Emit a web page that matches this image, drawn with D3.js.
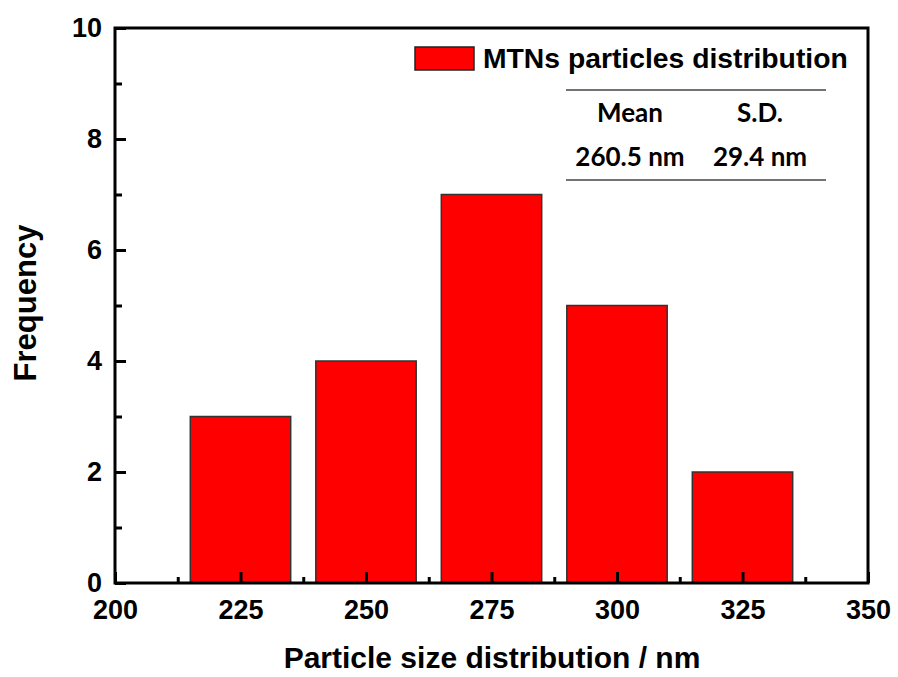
<!DOCTYPE html>
<html>
<head>
<meta charset="utf-8">
<script src="https://cdn.jsdelivr.net/npm/d3@7"></script>
<style>
  body { margin: 0; background: #fff; }
  text { font-family: "Liberation Sans", Arial, sans-serif; font-weight: bold; fill: #000; }
  .stat { font-family: Lato, "Open Sans", sans-serif; font-weight: 700; }
</style>
</head>
<body>
<svg id="chart" width="898" height="677"></svg>
<script>
// data
const binCenters = [225, 250, 275, 300, 325];
const frequency = [3, 4, 7, 5, 2];
const binWidth = 20;
const xTicks = [200, 225, 250, 275, 300, 325, 350];
const xMinor = [212.5, 237.5, 262.5, 287.5, 312.5, 337.5];
const yTicks = [0, 2, 4, 6, 8, 10];
const yMinor = [1, 3, 5, 7, 9];
const seriesName = "MTNs particles distribution";
const statHeaders = ["Mean", "S.D."];
const statValues = ["260.5 nm", "29.4 nm"];

(function (d3) {
    'use strict';

    const svg = d3.select("#chart");
    const left = 115, top = 28, right = 868, bottom = 583;

    const x = d3.scaleLinear().domain([200, 350]).range([left, right]);
    const y = d3.scaleLinear().domain([0, 10]).range([bottom, top]);

    // bars
    svg.append("g")
        .selectAll("rect")
        .data(binCenters)
        .enter()
        .append("rect")
        .attr("x", d => x(d - binWidth / 2))
        .attr("y", (d, i) => y(frequency[i]))
        .attr("width", d => x(d + binWidth / 2) - x(d - binWidth / 2))
        .attr("height", (d, i) => y(0) - y(frequency[i]))
        .style("fill", "#ff0000")
        .style("stroke", "#333")
        .style("stroke-width", 1.5);

    // minor ticks (inward)
    svg.append("g")
        .attr("transform", `translate(0,${bottom})`)
        .call(d3.axisBottom(x).tickValues(xMinor).tickSize(-6).tickFormat(""))
        .call(g => g.select(".domain").remove());
    svg.append("g")
        .attr("transform", `translate(${left},0)`)
        .call(d3.axisLeft(y).tickValues(yMinor).tickSize(-7).tickFormat(""))
        .call(g => g.select(".domain").remove());

    // major ticks + labels
    const xAxis = svg.append("g")
        .attr("transform", `translate(0,${bottom})`)
        .call(d3.axisBottom(x).tickValues(xTicks).tickSizeInner(-11).tickSizeOuter(0).tickPadding(17));
    xAxis.select(".domain").remove();
    xAxis.selectAll("text").style("font-size", "27px").style("font-family", "Liberation Sans, Arial, sans-serif");

    const yAxis = svg.append("g")
        .attr("transform", `translate(${left},0)`)
        .call(d3.axisLeft(y).tickValues(yTicks).tickSizeInner(-11).tickSizeOuter(0).tickPadding(13));
    yAxis.select(".domain").remove();
    yAxis.selectAll("text").style("font-size", "27px").style("font-family", "Liberation Sans, Arial, sans-serif");

    svg.selectAll(".tick line").style("stroke", "#000").style("stroke-width", 3);

    // frame
    svg.append("rect")
        .attr("x", left).attr("y", top)
        .attr("width", right - left).attr("height", bottom - top)
        .style("fill", "none")
        .style("stroke", "#000")
        .style("stroke-width", 3);

    // axis titles
    svg.append("text")
        .attr("x", 492).attr("y", 668)
        .attr("text-anchor", "middle")
        .style("font-size", "30px")
        .text("Particle size distribution / nm");

    svg.append("text")
        .attr("transform", "translate(36,303) rotate(-90)")
        .attr("text-anchor", "middle")
        .style("font-size", "31px")
        .text("Frequency");

    // legend
    svg.append("rect")
        .attr("x", 415).attr("y", 47)
        .attr("width", 59).attr("height", 23)
        .style("fill", "#ff0000")
        .style("stroke", "#222")
        .style("stroke-width", 1.5);
    svg.append("text")
        .attr("x", 483).attr("y", 68)
        .style("font-size", "28.3px")
        .text(seriesName);

    // stats table
    const cols = [630, 760];
    svg.append("line").attr("x1", 566).attr("x2", 826).attr("y1", 90).attr("y2", 90)
        .style("stroke", "#444").style("stroke-width", 1.5);
    svg.append("line").attr("x1", 566).attr("x2", 826).attr("y1", 180).attr("y2", 180)
        .style("stroke", "#444").style("stroke-width", 1.5);
    svg.append("g").selectAll("text").data(statHeaders).enter().append("text")
        .attr("class", "stat")
        .attr("x", (d, i) => cols[i]).attr("y", 122)
        .attr("text-anchor", "middle")
        .style("font-size", "26px")
        .text(d => d);
    svg.append("g").selectAll("text").data(statValues).enter().append("text")
        .attr("class", "stat")
        .attr("x", (d, i) => cols[i]).attr("y", 166)
        .attr("text-anchor", "middle")
        .style("font-size", "26px")
        .text(d => d);

}(d3));
</script>
</body>
</html>
